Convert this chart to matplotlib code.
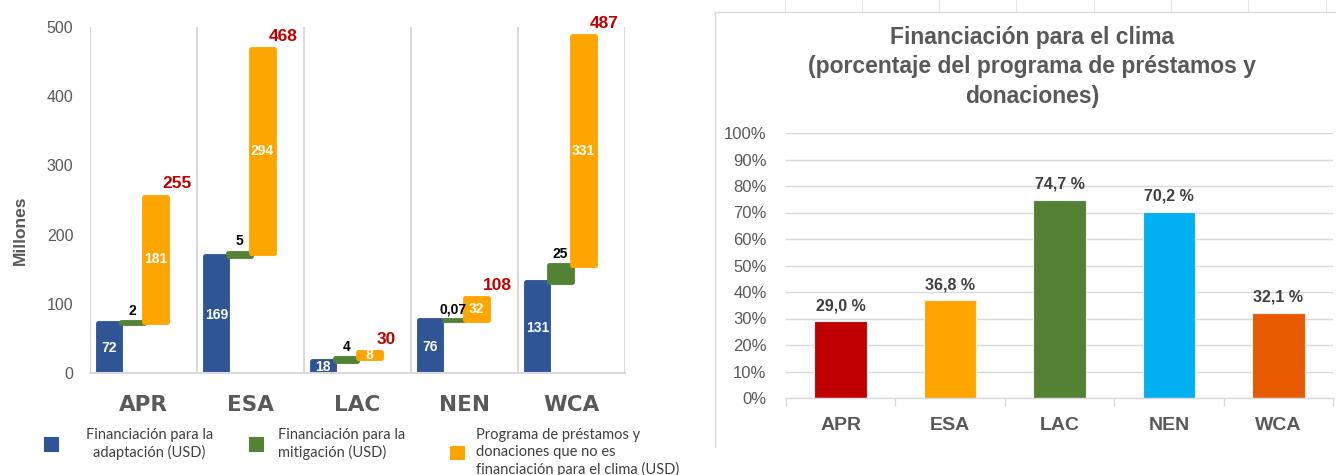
import numpy as np
import matplotlib.pyplot as plt
from matplotlib import font_manager
from matplotlib.patches import Patch
from matplotlib.lines import Line2D

# Datos
regions = ["APR", "ESA", "LAC", "NEN", "WCA"]
adaptation = [72, 169, 18, 76, 131]
mitigation = [2, 5, 4, 0.07, 25]
non_climate = [181, 294, 8, 32, 331]
totals = [255, 468, 30, 108, 487]
mitigation_labels = ["2", "5", "4", "0,07", "25"]
climate_share = [29.0, 36.8, 74.7, 70.2, 32.1]
y_ticks_left = [0, 100, 200, 300, 400, 500]
y_ticks_right = list(range(0, 101, 10))
legend_labels = ["Financiación para la\nadaptación (USD)",
                 "Financiación para la\nmitigación (USD)",
                 "Programa de préstamos y\ndonaciones que no es\nfinanciación para el clima (USD)"]

BLUE = "#2F5597"
GREEN = "#548235"
ORANGE = "#FFA500"
RED = "#C00000"
share_colors = ["#C00000", "#FFA500", "#548235", "#00B0F0", "#E85A00"]
GRAY_TXT = "#595959"
GRID = "#D9D9D9"

names = {f.name for f in font_manager.fontManager.ttflist}
NARROW = "Liberation Sans Narrow" if "Liberation Sans Narrow" in names else "Liberation Sans"
ARIAL = "Liberation Sans"

W, H = 1336, 475
fig = plt.figure(figsize=(W / 100, H / 100), dpi=100)

# ---------------- Gráfico izquierdo ----------------
ax1 = fig.add_axes([90 / W, 102 / H, 535 / W, 346 / H])
x = np.arange(len(regions))
bw = 0.21
off_a, off_m, off_n = -0.32, -0.105, 0.11
base_n = np.array(adaptation) + np.array(mitigation)

ax1.bar(x + off_a, adaptation, width=bw, color=BLUE, edgecolor=BLUE, linewidth=3.5, joinstyle="round")
ax1.bar(x + off_m, mitigation, bottom=adaptation, width=bw, color=GREEN, edgecolor=GREEN,
        linewidth=3.5, joinstyle="round")
ax1.bar(x + off_n, non_climate, bottom=base_n, width=bw, color=ORANGE, edgecolor=ORANGE,
        linewidth=3.5, joinstyle="round")

for i in range(len(regions)):
    ax1.text(x[i] + off_a, adaptation[i] / 2, str(adaptation[i]), ha="center", va="center",
             color="white", fontweight="bold", fontsize=10, family=ARIAL)
    ax1.annotate(mitigation_labels[i], (x[i] + off_m, adaptation[i] + mitigation[i]),
                 xytext=(0, 3), textcoords="offset points", ha="center", va="bottom",
                 color="black", fontweight="bold", fontsize=10, family=ARIAL)
    ax1.text(x[i] + off_n, base_n[i] + non_climate[i] / 2, str(non_climate[i]), ha="center",
             va="center", color="white", fontweight="bold", fontsize=10, family=ARIAL)
    ax1.annotate(str(totals[i]), (x[i] + off_n, totals[i]), xytext=(5, 6),
                 textcoords="offset points", ha="left", va="baseline", color=RED,
                 fontweight="bold", fontsize=12.5, family=ARIAL, annotation_clip=False)

ax1.set_xlim(-0.5, 4.5)
ax1.set_ylim(0, 500)
ax1.set_yticks(y_ticks_left)
ax1.set_xticks(x)
ax1.set_xticklabels(regions, fontsize=15.5, fontweight="bold", color=GRAY_TXT)
ax1.set_xticks(np.arange(-0.5, 5), minor=True)
ax1.tick_params(axis="x", which="both", length=0, pad=16)
ax1.tick_params(axis="y", length=0, pad=12, labelsize=11.5, labelcolor=GRAY_TXT)
for lab in ax1.get_yticklabels():
    lab.set_family(ARIAL)
ax1.grid(which="minor", axis="x", color=GRID, linewidth=1.5)
for s in ["top", "right", "left"]:
    ax1.spines[s].set_visible(False)
ax1.spines["bottom"].set_color(GRID)
ax1.spines["bottom"].set_linewidth(1.5)
ax1.set_axisbelow(True)

fig.text(20 / W, 1 - 230 / H, "Millones", rotation=90, ha="center", va="center",
         fontsize=12.5, fontweight="bold", color=GRAY_TXT, family=ARIAL)

# leyenda
leg_colors = [BLUE, GREEN, ORANGE]
leg_x = [45, 250, 451]
leg_pad = [1.9, 1.0, 0.8]
leg_align = ["center", "left", "left"]
for c, lab, lx, pad, al in zip(leg_colors, legend_labels, leg_x, leg_pad, leg_align):
    leg = fig.legend(handles=[Patch(facecolor=c, edgecolor=c, linewidth=1.5, joinstyle="round")],
                     labels=[lab], loc="upper left", bbox_to_anchor=(lx / W, 1 - 428 / H),
                     frameon=False, handlelength=0.9, handleheight=0.9, handletextpad=pad,
                     borderpad=0, borderaxespad=0, labelcolor="#404040",
                     prop={"family": "Lato", "size": 10.5})
    for t in leg.get_texts():
        t.set_multialignment(al)
        t.set_linespacing(1.25)

# ---------------- Gráfico derecho ----------------
ax2 = fig.add_axes([786 / W, 77 / H, 547 / W, 265 / H])
ax2.bar(x, climate_share, width=0.48, color=share_colors, edgecolor="#F2F2F2", linewidth=0.8)
for i, v in enumerate(climate_share):
    ax2.annotate(f"{v:.1f}".replace(".", ",") + " %", (x[i], v), xytext=(0, 8),
                 textcoords="offset points", ha="center", va="baseline", color="#404040",
                 fontweight="bold", fontsize=11.5, family=NARROW)

ax2.set_xlim(-0.5, 4.5)
ax2.set_ylim(0, 100)
ax2.set_yticks(y_ticks_right)
ax2.set_yticklabels([f"{v}%" for v in y_ticks_right], family=NARROW, fontsize=12, color=GRAY_TXT)
ax2.set_xticks(x)
ax2.set_xticklabels(regions, family=NARROW, fontsize=14, fontweight="bold", color=GRAY_TXT)
ax2.set_xticks(np.arange(-0.5, 5), minor=True)
ax2.tick_params(axis="x", which="major", length=0, pad=14)
ax2.tick_params(axis="x", which="minor", length=6, color=GRID, width=1)
ax2.tick_params(axis="y", length=0, pad=14)
ax2.grid(axis="y", color=GRID, linewidth=1)
ax2.set_axisbelow(True)
for s in ["top", "right", "left"]:
    ax2.spines[s].set_visible(False)
ax2.spines["bottom"].set_color(GRID)
ax2.spines["bottom"].set_linewidth(1)

fig.text(1032 / W, 1 - 67 / H,
         "Financiación para el clima\n(porcentaje del programa de préstamos y\ndonaciones)",
         ha="center", va="center", multialignment="center", fontsize=16.5, fontweight="bold",
         color=GRAY_TXT, family=NARROW, linespacing=1.35)

# marco del gráfico derecho y líneas de celdas
fig.add_artist(Line2D([715 / W, 715 / W], [1 - 12 / H, 1 - 447 / H], color=GRID, lw=1))
fig.add_artist(Line2D([715 / W, 1], [1 - 12 / H, 1 - 12 / H], color=GRID, lw=1))
for cx in [785, 862, 939, 1016, 1094, 1171, 1248, 1326]:
    fig.add_artist(Line2D([cx / W, cx / W], [1, 1 - 11 / H], color="#E6E6E6", lw=0.8))

fig.savefig("out.png", dpi=100)
